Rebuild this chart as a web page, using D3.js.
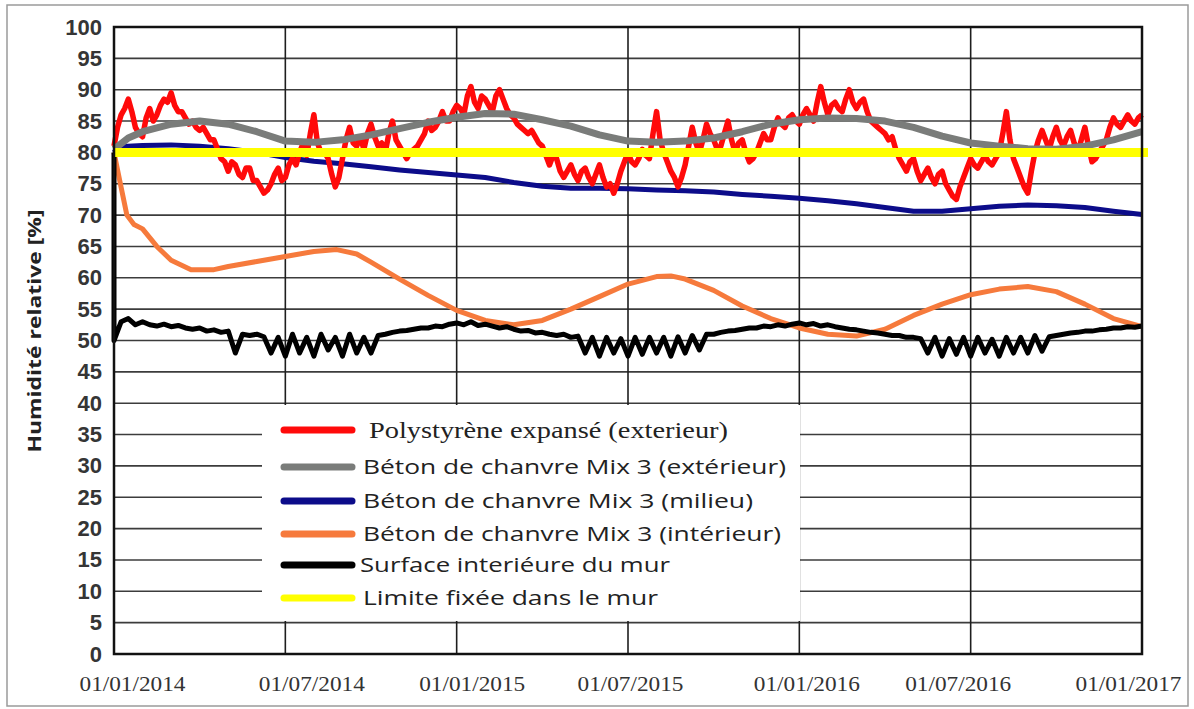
<!DOCTYPE html>
<html><head><meta charset="utf-8">
<script src="https://cdn.jsdelivr.net/npm/d3@7"></script>
<style>body{margin:0;background:#fff}</style>
</head><body>
<svg id="c" width="1194" height="709"></svg>
<script>
// ---------- DATA ----------
const yTickValues = [0,5,10,15,20,25,30,35,40,45,50,55,60,65,70,75,80,85,90,95,100];
const xTickMonths = [0,6,12,18,24,30,36];
const xTickLabels = ["01/01/2014","01/07/2014","01/01/2015","01/07/2015","01/01/2016","01/07/2016","01/01/2017"];

const seriesNames = [
  "Polystyrène expansé (exterieur)",
  "Béton de chanvre Mix 3 (extérieur)",
  "Béton de chanvre Mix 3 (milieu)",
  "Béton de chanvre Mix 3 (intérieur)",
  "Surface interiéure du mur",
  "Limite fixée dans le mur"
];

// months since 01/01/2014
const grayMonths = [0,0.5,1,2,3,4,5,6,7,8,9,10,11,12,13,14,15,16,17,18,19,20,21,22,23,24,25,26,27,28,29,30,31,32,33,34,35,36];
const grayValues = [80.5,82.3,83.3,84.5,85,84.5,83.3,81.8,81.6,82,82.8,83.8,84.8,85.6,86.2,86.1,85.2,84.2,82.8,81.8,81.6,81.8,82.3,83.3,84.5,85.2,85.5,85.4,85,84,82.6,81.5,81,80.6,80.5,81,82,83.3];

const blueMonths = [0,0.15,1,2,3,4,5,6,7,8,9,10,11,12,13,14,15,16,17,18,19,20,21,22,23,24,25,26,27,28,29,30,31,32,33,34,35,36];
const blueValues = [80,80.9,81.1,81.2,81,80.6,80,79.2,78.6,78.2,77.7,77.2,76.8,76.4,76,75.2,74.6,74.3,74.3,74.2,74,73.9,73.7,73.3,73,72.7,72.3,71.8,71.2,70.6,70.6,71,71.4,71.6,71.5,71.2,70.6,70.1];

const orangeMonths = [0,0.2,0.45,0.7,1,1.5,2,2.7,3.5,4,5,6,7,7.8,8.5,9,10,11,12,13,14,15,16,17,18,19,19.5,20,21,22,23,24,25,26,27,28,29,30,31,32,33,34,35,36];
const orangeValues = [80,75.5,70,68.5,67.8,65,62.8,61.3,61.3,61.8,62.6,63.4,64.2,64.5,63.8,62.5,59.8,57.2,54.8,53.2,52.5,53.2,55,57,59,60.2,60.3,59.8,58,55.5,53.5,52,51,50.7,51.8,54,55.8,57.3,58.2,58.6,57.8,55.8,53.5,52.2];

// sampled every eighth of a month
const redValues = [81,84,86,87,88.5,86.5,84,83,82.5,85.5,87,85,86,87.5,88.5,88,89.5,87.5,86.5,86.5,85.5,84.5,85,84,83.5,84,83,82,82,80.5,79,78.5,77,78.5,78,76.5,76,77.5,77.5,75.5,75.5,74.5,73.5,74,75,76.5,77.5,75.5,76,78,79,78,80,81.5,79.5,83,86,81.5,80,80,79,76.5,74.5,76,79,82,84,81.5,81,82.5,80.5,83,84.5,82.5,81,81.5,80,83,85,82,81,80,79,80,80.5,81,82,83,85,83.5,84,85,86.5,85,85,86.5,87.5,87,86,89,90.5,88,87,89,88.5,87.5,86.5,89,90,88.5,87,86,85.5,84.5,84,83.5,83,83.5,82.5,81.5,81,79.5,78,79.5,79,77,76,77,78,76.5,75.5,77,77.5,76,75,76.5,78,76,74.5,75,73.5,75,77,78.5,80,78.5,78,79,80.5,79.5,79,83,86.5,82,80,78.5,77,76,74.5,76,78,81,84,81.5,80,82,84.5,83,82,80.5,81,83,85,82,80,81.5,82,80,78.5,79,80,81.5,83,82,82,84,85.5,84.5,84,85.5,86,85,84.5,86,87,86,85,88,90.5,88,86,87.5,88,87,86.5,88.5,90,88,87,88,88.5,86.5,85,84.5,84,83.5,83,82,82.5,80.5,79,78,77,78.5,79,77,75.5,76.5,77.5,76,75,76.5,77,75,74,73,72.5,74.5,76,77.5,79,78,77.5,78.5,79.5,78.5,78,79,80,83,86.5,82,79,77.5,76,74.5,73.5,77,80,82,83.5,82,80.5,82.5,84,82,81,82.5,83.5,81.5,80,82,84,81,78.5,79,80,81,82,84,85.5,84.5,84,85,86,85,84.5,85.5,86];

// first two values at month 0, then every quarter month
const blackValues = [80,50,53,53.5,52.5,53,52.5,52.3,52.6,52.2,52.4,52,51.8,52,51.5,51.7,51.3,51.5,48,51,50.8,51,50.6,48,50.5,47.5,51,48,50.5,47.5,51,48.5,50.5,47.5,51,48,50.5,48,50.8,51,51.3,51.5,51.6,51.8,52,52,52.3,52.2,52.6,52.8,52.5,53,52.4,52.6,52.3,52,52.2,51.8,51.5,51.6,51.2,51.3,51,50.8,51,50.5,50.7,48,50.5,47.5,50.5,48,50.3,47.5,50.5,47.8,50.5,48,50.5,47.5,50.6,48,50.8,48.5,51,51,51.3,51.5,51.6,51.8,52,52,52.3,52.2,52.5,52.3,52.6,52.8,52.5,52.7,52.3,52.5,52.2,52,51.8,51.7,51.5,51.3,51.2,51,50.8,50.8,50.5,50.5,50.3,48,50.5,47.5,50.3,47.8,50.5,47.5,50.5,48,50.2,47.5,50.5,48,50.5,48,50.8,48.3,50.6,50.8,51,51.2,51.3,51.5,51.5,51.7,51.8,52,52,52.2,52.1,52.3];

const limitValue = 80;

// ---------- LAYOUT ----------
const svg = d3.select("#c");
const L = 114, R = 1142, T = 27, B = 654;
const x = d3.scaleLinear().domain([0,36]).range([L,R]);
const y = d3.scaleLinear().domain([0,100]).range([B,T]);

// outer border
svg.append("rect").attr("x",7).attr("y",5).attr("width",1181).attr("height",701)
  .attr("fill","none").attr("stroke","#9a9a9a").attr("stroke-width",1.5);

// grid
svg.append("g").selectAll("line").data(yTickValues.filter(v=>v>0&&v<100)).join("line")
  .attr("x1",L).attr("x2",R).attr("y1",d=>y(d)).attr("y2",d=>y(d))
  .attr("stroke","#3c3c3c").attr("stroke-width",1.6);
svg.append("g").selectAll("line").data(xTickMonths.filter(v=>v>0&&v<36)).join("line")
  .attr("x1",d=>x(d)).attr("x2",d=>x(d)).attr("y1",T).attr("y2",B)
  .attr("stroke","#1e1e1e").attr("stroke-width",1.6);

// y axis labels
const yAxis = svg.append("g").attr("transform",`translate(${L},0)`)
  .call(d3.axisLeft(y).tickValues(yTickValues).tickSize(0).tickPadding(12));
yAxis.select(".domain").remove();
yAxis.selectAll("text").attr("font-family","Liberation Sans, Arial, sans-serif")
  .attr("font-size",22).attr("font-weight","bold").attr("fill","#353535");

// x axis labels
const xShift = [18,26,15,2,7,-13,-14];
const xAxis = svg.append("g").attr("transform",`translate(0,${B})`)
  .call(d3.axisBottom(x).tickValues(xTickMonths).tickFormat((d,i)=>xTickLabels[i]).tickSize(0).tickPadding(22));
xAxis.select(".domain").remove();
xAxis.selectAll("text").attr("font-family","Liberation Serif, Times New Roman, serif")
  .attr("font-size",21).attr("fill","#333")
  .attr("textLength",106).attr("lengthAdjust","spacingAndGlyphs")
  .attr("dx",(d,i)=>xShift[i]);

// y title
svg.append("text").attr("transform","translate(41,331) rotate(-90)")
  .attr("text-anchor","middle").attr("font-family","Open Sans, sans-serif")
  .attr("font-weight","bold").attr("font-size",18).attr("fill","#222")
  .attr("textLength",243).attr("lengthAdjust","spacingAndGlyphs")
  .text("Humidité relative [%]");

// series
const line = d3.line().x(d=>x(d[0])).y(d=>y(d[1]));
const zip = (ms,vs)=>vs.map((v,i)=>[ms[i],v]);
const redPts = redValues.map((v,i)=>[i*0.125,v]);
const blackPts = blackValues.map((v,i)=>[i<2?0:(i-1)*0.25,v]);

const colors = {red:"#ff0a0a", gray:"#7a7c7a", blue:"#0c0c8a", orange:"#f67a3c", black:"#000000", yellow:"#ffff00"};

svg.append("path").attr("d",line(zip(blueMonths,blueValues))).attr("fill","none")
  .attr("stroke",colors.blue).attr("stroke-width",5).attr("stroke-linejoin","round");
svg.append("path").attr("d",line(zip(orangeMonths,orangeValues))).attr("fill","none")
  .attr("stroke",colors.orange).attr("stroke-width",5).attr("stroke-linejoin","round");
svg.append("path").attr("d",line(blackPts)).attr("fill","none")
  .attr("stroke",colors.black).attr("stroke-width",5).attr("stroke-linejoin","round");
svg.append("path").attr("d",line(redPts)).attr("fill","none")
  .attr("stroke",colors.red).attr("stroke-width",5.5).attr("stroke-linejoin","round");
svg.append("path").attr("d",line(zip(grayMonths,grayValues))).attr("fill","none")
  .attr("stroke",colors.gray).attr("stroke-width",7).attr("stroke-linejoin","round");
svg.append("line").attr("x1",x(0)).attr("x2",x(36)+6).attr("y1",y(limitValue)).attr("y2",y(limitValue))
  .attr("stroke",colors.yellow).attr("stroke-width",9);

// frame
svg.append("rect").attr("x",L).attr("y",T).attr("width",R-L).attr("height",B-T)
  .attr("fill","none").attr("stroke","#111").attr("stroke-width",2.5);

// legend
const lg = svg.append("g");
lg.append("rect").attr("x",262).attr("y",405).attr("width",538).attr("height",216).attr("fill","#fff");
const legColors = [colors.red,colors.gray,colors.blue,colors.orange,colors.black,colors.yellow];
const legY = [430,467,501,534,565,598];
const legTextX = [369,363,363,363,360,363];
const legTextLen = [359,423,390,418,310,295];
seriesNames.forEach((n,i)=>{
  lg.append("line").attr("x1",284).attr("x2",352).attr("y1",legY[i]).attr("y2",legY[i])
    .attr("stroke",legColors[i]).attr("stroke-width",7).attr("stroke-linecap","round");
  lg.append("text").attr("x",legTextX[i]).attr("y",legY[i]).attr("dy","0.35em")
    .attr("font-family", i===0 ? "Liberation Serif, serif" : "Open Sans, sans-serif")
    .attr("font-size", i===0 ? 24 : 20).attr("fill","#222")
    .attr("textLength",legTextLen[i]).attr("lengthAdjust","spacingAndGlyphs")
    .text(n);
});
</script>
</body></html>
